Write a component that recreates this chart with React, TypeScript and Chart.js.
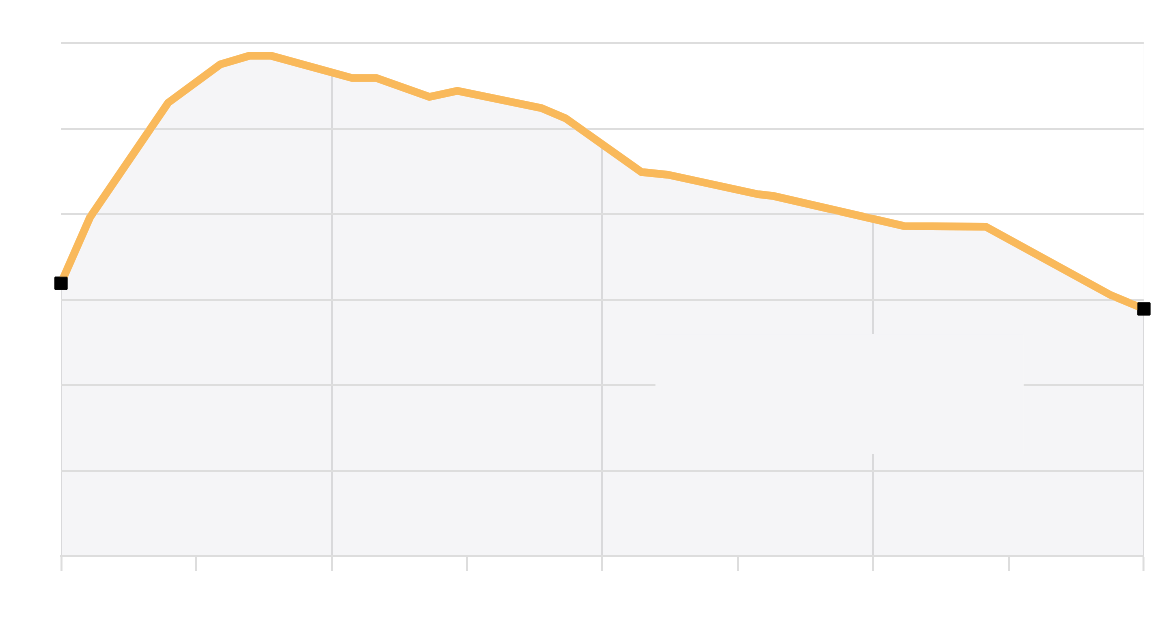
import React, { useEffect, useRef } from "react";
import { Chart, registerables } from "chart.js";

Chart.register(...registerables);

// x positions in axis units (8 equal intervals across the axis)
const xValues = [0, 0.214, 0.791, 1.176, 1.39, 1.553, 2.152, 2.329, 2.721, 2.928, 3.549, 3.727, 4.288, 4.481, 5.153, 5.264, 6.226, 6.832, 7.756, 8.0];
const yValues = [3.19, 3.96, 5.3, 5.75, 5.85, 5.85, 5.59, 5.59, 5.37, 5.44, 5.24, 5.12, 4.49, 4.46, 4.23, 4.21, 3.86, 3.85, 3.05, 2.89];

const xMin = 0;
const xMax = 8;
const yMin = 0;
const yMax = 6;

const LINE_COLOR = "#f9b95b";
const GRID_COLOR = "#dddddd";
const FILL_COLOR = "rgba(205,205,215,0.2)";
const BOX_COLOR = "#f5f5f7";

// blank panel over the lower right of the plot (fractions of the chart area)
const blankPanel = { left: 0.5489, right: 0.8891, top: 0.5673, bottom: 0.8012 };

const overlayPlugin = {
  id: "overlay",
  afterDraw(chart: any) {
    const { ctx, chartArea } = chart;
    const w = chartArea.right - chartArea.left;
    const h = chartArea.bottom - chartArea.top;
    ctx.save();
    ctx.fillStyle = BOX_COLOR;
    ctx.fillRect(
      chartArea.left + blankPanel.left * w,
      chartArea.top + blankPanel.top * h,
      (blankPanel.right - blankPanel.left) * w,
      (blankPanel.bottom - blankPanel.top) * h
    );
    ctx.restore();
    // draw the line again so it sits above the horizontal grid
    const meta = chart.getDatasetMeta(0);
    ctx.save();
    meta.dataset.draw(ctx, chartArea);
    meta.data.forEach((p: any) => p.draw(ctx, chartArea));
    ctx.restore();
  },
};

export default function App() {
  const canvasRef = useRef<HTMLCanvasElement | null>(null);

  useEffect(() => {
    document.body.style.margin = "0";
    const canvas = canvasRef.current;
    if (!canvas) return;
    const points = xValues.map((x, i) => ({ x, y: yValues[i] }));
    const last = points.length - 1;
    const chart = new Chart(canvas, {
      type: "line",
      data: {
        datasets: [
          {
            data: points,
            borderColor: LINE_COLOR,
            borderWidth: 7.5,
            backgroundColor: FILL_COLOR,
            fill: "origin",
            tension: 0,
            clip: false,
            pointStyle: "rect",
            pointRadius: (c: any) => (c.dataIndex === 0 || c.dataIndex === last ? 8.5 : 0),
            pointBackgroundColor: "#000",
            pointBorderColor: "#000",
            pointBorderWidth: 1,
            pointHoverRadius: 0,
          },
          {
            data: points,
            borderColor: "rgba(0,0,0,0)",
            borderWidth: 0,
            backgroundColor: "#ffffff",
            fill: "end",
            pointRadius: 0,
            pointHoverRadius: 0,
          },
        ],
      },
      options: {
        animation: false,
        responsive: true,
        maintainAspectRatio: false,
        events: [],
        layout: {
          autoPadding: false,
          padding: { left: 61, top: 43, right: 12.1, bottom: 55 },
        },
        plugins: {
          legend: { display: false },
          tooltip: { enabled: false },
          filler: { drawTime: "beforeDatasetsDraw" },
        },
        scales: {
          x: {
            type: "linear",
            min: xMin,
            max: xMax,
            ticks: { display: false, stepSize: 1 },
            grid: {
              z: -1,
              color: (c: any) => (c.index % 2 === 0 ? GRID_COLOR : "rgba(0,0,0,0)"),
              lineWidth: (c: any) => (c.index === 0 || c.index === 8 ? 1 : 2),
              tickColor: GRID_COLOR,
              tickWidth: 2,
              tickLength: 15,
              drawTicks: true,
            },
            border: { display: true, color: GRID_COLOR, width: 2 },
          },
          y: {
            type: "linear",
            min: yMin,
            max: yMax,
            ticks: { display: false, stepSize: 1 },
            grid: {
              z: 1,
              color: GRID_COLOR,
              drawTicks: false,
              lineWidth: 2,
            },
            border: { display: false },
          },
        },
      },
      plugins: [overlayPlugin],
    } as any);
    return () => chart.destroy();
  }, []);

  return (
    <div style={{ width: 1156, height: 626, position: "relative" }}>
      <canvas ref={canvasRef} />
    </div>
  );
}
